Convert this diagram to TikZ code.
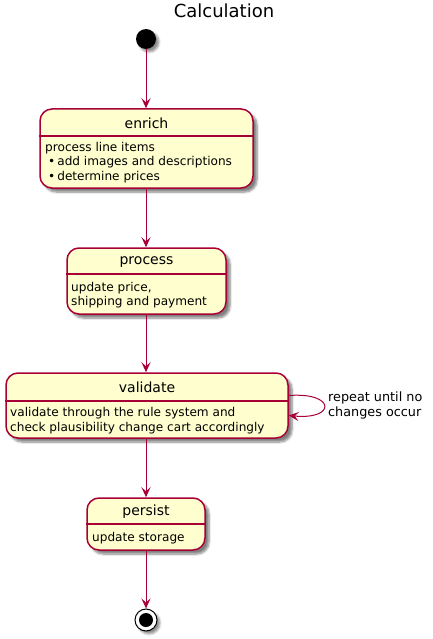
\documentclass[tikz,border=0pt]{standalone}
\usepackage{fontspec}
\setmainfont{DejaVu Sans}
\usetikzlibrary{arrows.meta,shadows.blur}
\definecolor{umlred}{HTML}{A80036}
\definecolor{umlfill}{HTML}{FEFECE}
\tikzset{
    state/.style={draw=umlred, fill=umlfill, line width=1.5pt, rounded corners=12pt,
        inner sep=0pt, blur shadow={shadow xshift=4pt, shadow yshift=-4pt, shadow blur steps=6, shadow opacity=50}},
    divider/.style={draw=umlred, line width=1.5pt},
    trans/.style={draw=umlred, line width=1pt, -{Stealth[length=10pt,width=9pt,inset=4pt]}},
    sname/.style={font=\fontsize{14}{16}\selectfont, inner sep=0pt},
    sbody/.style={font=\fontsize{12.1}{14.5}\selectfont, align=left, anchor=north west, inner sep=0pt},
}

\begin{document}
\begin{tikzpicture}[x=1pt, y=-1pt]
    \useasboundingbox (0,0) rectangle (432,639);
    \node[font=\fontsize{18}{21}\selectfont] (title) at (224,11) {Calculation};

    % start and stop
    \node[circle, fill=black, minimum size=20pt, inner sep=0pt,
        blur shadow={shadow xshift=3pt, shadow yshift=-3pt, shadow opacity=45}] (start) at (146,39) {};
    \node[circle, draw=black, fill=white, line width=1pt, minimum size=22pt, inner sep=0pt,
        blur shadow={shadow xshift=3pt, shadow yshift=-3pt, shadow opacity=45}] (stop) at (146,620) {};
    \node[circle, fill=black, minimum size=14pt, inner sep=0pt] (stopdot) at (stop) {};

    % enrich
    \node[state, minimum width=213pt, minimum height=79pt] (enrich) at (146.5,148.5) {};
    \draw[divider] (enrich.west |- 0,136) -- (enrich.east |- 0,136);
    \node[sname] (enrichname) at (146.5,123) {enrich};
    \node[sbody] (enrichbody) at (45,142) {process line items\\
        \hspace{3pt}•\hspace{2pt}add images and descriptions\\
        \hspace{3pt}•\hspace{2pt}determine prices};

    % process
    \node[state, minimum width=159pt, minimum height=66pt] (process) at (146.5,281) {};
    \draw[divider] (process.west |- 0,274) -- (process.east |- 0,274);
    \node[sname] (processname) at (146.5,262.5) {process};
    \node[sbody] (processbody) at (71,282) {update price,\\shipping and payment};

    % validate
    \node[state, minimum width=282pt, minimum height=65pt] (validate) at (147,405.5) {};
    \draw[divider] (validate.west |- 0,401) -- (validate.east |- 0,401);
    \node[sname] (validatename) at (147,387) {validate};
    \node[sbody] (validatebody) at (10,407.5) {validate through the rule system and\\
        check plausibility change cart accordingly};

    % persist
    \node[state, minimum width=118pt, minimum height=52pt] (persist) at (146,524) {};
    \draw[divider] (persist.west |- 0,524) -- (persist.east |- 0,524);
    \node[sname] (persistname) at (146,512) {persist};
    \node[sbody] (persistbody) at (92,532) {update storage};

    % transitions
    \draw[trans] (start) -- (start |- enrich.north);
    \draw[trans] (start |- enrich.south) -- (start |- process.north);
    \draw[trans] (start |- process.south) -- (start |- validate.north);
    \draw[trans] (start |- validate.south) -- (start |- persist.north);
    \draw[trans] (persist) -- (stop);
    \draw[trans] ([yshift=10pt]validate.east) .. controls (336,392) and (336,420) .. ([yshift=-10pt]validate.east);
    \node[font=\fontsize{12.8}{15}\selectfont, align=left, anchor=west, inner sep=0pt] (looplabel) at (328,405.5) {repeat until no\\changes occur};
\end{tikzpicture}
\end{document}
